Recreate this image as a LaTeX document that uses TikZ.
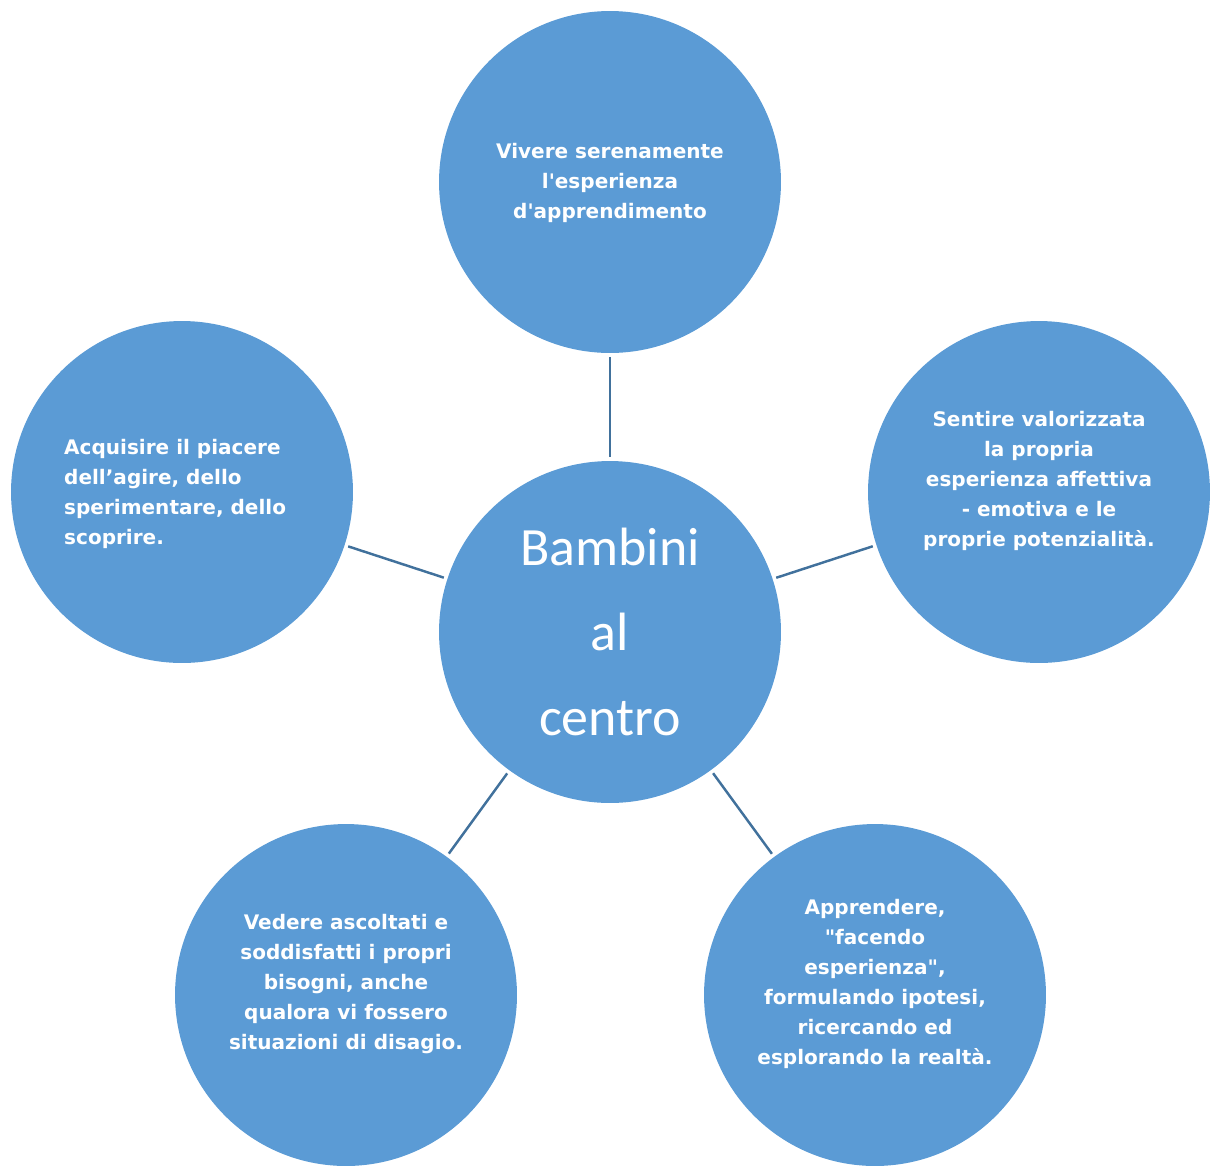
\documentclass[tikz,border=0pt]{standalone}
\usepackage{fontspec}
\setmainfont{Carlito}
\newfontfamily\comicfont{DejaVu Sans}
\usetikzlibrary{positioning}
\definecolor{bubblefill}{HTML}{5B9BD5}
\definecolor{linkline}{HTML}{41719C}

\begin{document}
\begin{tikzpicture}[x=0.02cm,y=-0.02cm,
	bubble/.style={circle,fill=bubblefill,minimum size=6.84cm,inner sep=0pt},
	txt/.style={text=white,font=\comicfont\bfseries\fontsize{11.4}{17.1}\selectfont,align=center},
	link/.style={draw=linkline,line width=1.4pt,shorten <=2pt,shorten >=2pt}]
	\useasboundingbox (0,0) rectangle (1213,1167);

	\node[bubble,text=white,font=\fontsize{30.7}{48.4}\selectfont,align=center] (ctr) at (610,632) {Bambini\\al\\centro};
	\node[bubble] (top) at (610,182) {};
	\node[bubble] (right) at (1039,492) {};
	\node[bubble] (botright) at (875,995) {};
	\node[bubble] (botleft) at (346,995) {};
	\node[bubble] (left) at (182,492) {};

	\node[txt] (ttop) at (610,183) {Vivere serenamente\\l\textquotesingle esperienza\\d\textquotesingle apprendimento};
	\node[txt] (tright) at (1039,481) {Sentire valorizzata\\la propria\\esperienza affettiva\\- emotiva e le\\proprie potenzialità.};
	\node[txt] (tbotright) at (875,984) {Apprendere,\\"facendo\\esperienza",\\formulando ipotesi,\\ricercando ed\\esplorando la realtà.};
	\node[txt] (tbotleft) at (346,984) {Vedere ascoltati e\\soddisfatti i propri\\bisogni, anche\\qualora vi fossero\\situazioni di disagio.};
	\node[txt,align=left,anchor=west] (tleft) at (58,494) {Acquisire il piacere\\dell’agire, dello\\sperimentare, dello\\scoprire.};

	\draw[link] (top) -- (ctr);
	\draw[link] (right) -- (ctr);
	\draw[link] (botright) -- (ctr);
	\draw[link] (botleft) -- (ctr);
	\draw[link] (left) -- (ctr);
\end{tikzpicture}
\end{document}
